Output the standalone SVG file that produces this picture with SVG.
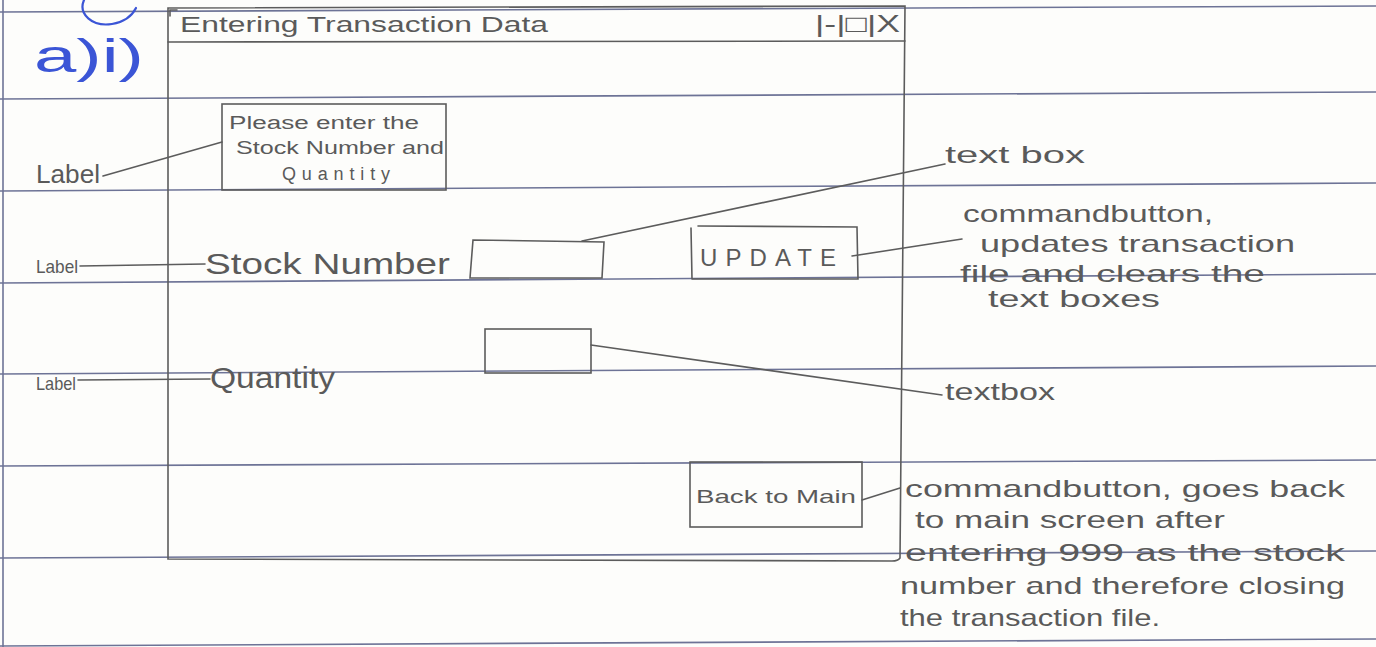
<svg xmlns="http://www.w3.org/2000/svg" width="1376" height="647" viewBox="0 0 1376 647">
<style>
.rule{stroke:#6d7396;stroke-width:1.6;fill:none}
.pen{stroke:#5c5c5c;stroke-width:1.6;fill:none;stroke-linecap:round}
.t{font-family:"Liberation Sans",Arial,sans-serif;fill:#5a5a5a;}
.blue{stroke:#3b55d6;stroke-width:2.2;fill:none;stroke-linecap:round}
</style>
<rect width="1376" height="647" fill="#fdfdfb"/>
<g id="paper">
<line class="rule" x1="0" y1="12" x2="1376" y2="6"/>
<line class="rule" x1="0" y1="99" x2="1376" y2="92"/>
<line class="rule" x1="0" y1="191" x2="1376" y2="183"/>
<line class="rule" x1="0" y1="283" x2="1376" y2="274"/>
<line class="rule" x1="0" y1="374" x2="1376" y2="366"/>
<line class="rule" x1="0" y1="466" x2="1376" y2="460"/>
<line class="rule" x1="0" y1="558" x2="1376" y2="551"/>
<line class="rule" x1="0" y1="646" x2="1376" y2="639"/>
<line class="rule" x1="3" y1="0" x2="3" y2="647"/>
</g>
<g id="heading">
<path class="blue" d="M84,0 C78,14 92,27 112,24 C124,22 132,16 136,8"/>
<text x="34" y="72" font-size="46" fill="#3b55d6" font-family="Liberation Sans, Arial, sans-serif" textLength="110" lengthAdjust="spacingAndGlyphs">a)i)</text>
</g>
<g id="window">
<path class="pen" d="M168,8 L905,6 L900,558 Q898,561 892,561 L168,559 Z"/>
<line class="pen" x1="168" y1="42" x2="905" y2="41"/>
<path class="pen" d="M170,16 L170,10 L177,10"/>
<text class="t" x="180" y="32" font-size="22" textLength="368" lengthAdjust="spacingAndGlyphs">Entering Transaction Data</text>
<text class="t" x="815" y="32" font-size="24" textLength="85" lengthAdjust="spacingAndGlyphs">|-|□|X</text>
</g>
<g id="label-box">
<rect class="pen" x="222" y="104" width="224" height="86"/>
<text class="t" x="229" y="129" font-size="18" textLength="190" lengthAdjust="spacingAndGlyphs">Please enter the</text>
<text class="t" x="236" y="154" font-size="18" textLength="208" lengthAdjust="spacingAndGlyphs">Stock Number and</text>
<text class="t" x="282" y="180" font-size="18" textLength="108" lengthAdjust="spacing">Quantity</text>
</g>
<g id="stock-label"><text class="t" x="205" y="274" font-size="30" textLength="245" lengthAdjust="spacingAndGlyphs">Stock Number</text></g>
<g id="stock-textbox"><path class="pen" d="M470,278 L473,240 L604,242 L602,278 Z"/></g>
<g id="update-button">
<path class="pen" d="M692,279 L691,228 M698,226 L857,227 L858,279 L692,279"/>
<text class="t" x="700" y="266" font-size="24" textLength="136" lengthAdjust="spacing">UPDATE</text>
</g>
<g id="quantity-label"><text class="t" x="210" y="388" font-size="30" textLength="125" lengthAdjust="spacingAndGlyphs">Quantity</text></g>
<g id="quantity-textbox"><rect class="pen" x="485" y="329" width="106" height="44"/></g>
<g id="back-button">
<rect class="pen" x="690" y="462" width="172" height="65"/>
<text class="t" x="696" y="503" font-size="19" textLength="160" lengthAdjust="spacingAndGlyphs">Back to Main</text>
</g>
<g id="annotations">
<text class="t" x="36" y="183" font-size="26" textLength="64" lengthAdjust="spacingAndGlyphs">Label</text>
<text class="t" x="36" y="273" font-size="19" textLength="42" lengthAdjust="spacingAndGlyphs">Label</text>
<text class="t" x="36" y="390" font-size="19" textLength="40" lengthAdjust="spacingAndGlyphs">Label</text>
<text class="t" x="945" y="163" font-size="24" textLength="140" lengthAdjust="spacingAndGlyphs">text box</text>
<text class="t" x="963" y="222" font-size="24" textLength="250" lengthAdjust="spacingAndGlyphs">commandbutton,</text>
<text class="t" x="980" y="252" font-size="24" textLength="315" lengthAdjust="spacingAndGlyphs">updates transaction</text>
<text class="t" x="960" y="282" font-size="24" textLength="305" lengthAdjust="spacingAndGlyphs">file and clears the</text>
<text class="t" x="988" y="307" font-size="24" textLength="172" lengthAdjust="spacingAndGlyphs">text boxes</text>
<text class="t" x="945" y="400" font-size="24" textLength="110" lengthAdjust="spacingAndGlyphs">textbox</text>
<text class="t" x="905" y="497" font-size="24" textLength="440" lengthAdjust="spacingAndGlyphs">commandbutton, goes back</text>
<text class="t" x="915" y="528" font-size="24" textLength="310" lengthAdjust="spacingAndGlyphs">to main screen after</text>
<text class="t" x="905" y="561" font-size="24" textLength="440" lengthAdjust="spacingAndGlyphs">entering 999 as the stock</text>
<text class="t" x="900" y="594" font-size="24" textLength="445" lengthAdjust="spacingAndGlyphs">number and therefore closing</text>
<text class="t" x="900" y="626" font-size="24" textLength="260" lengthAdjust="spacingAndGlyphs">the transaction file.</text>
</g>
<g id="connectors">
<line class="pen" x1="103" y1="176" x2="222" y2="142"/>
<line class="pen" x1="80" y1="266" x2="205" y2="264"/>
<line class="pen" x1="78" y1="380" x2="210" y2="379"/>
<line class="pen" x1="582" y1="241" x2="945" y2="164"/>
<line class="pen" x1="852" y1="256" x2="962" y2="239"/>
<line class="pen" x1="591" y1="345" x2="942" y2="395"/>
<line class="pen" x1="862" y1="500" x2="900" y2="488"/>
</g>
</svg>
